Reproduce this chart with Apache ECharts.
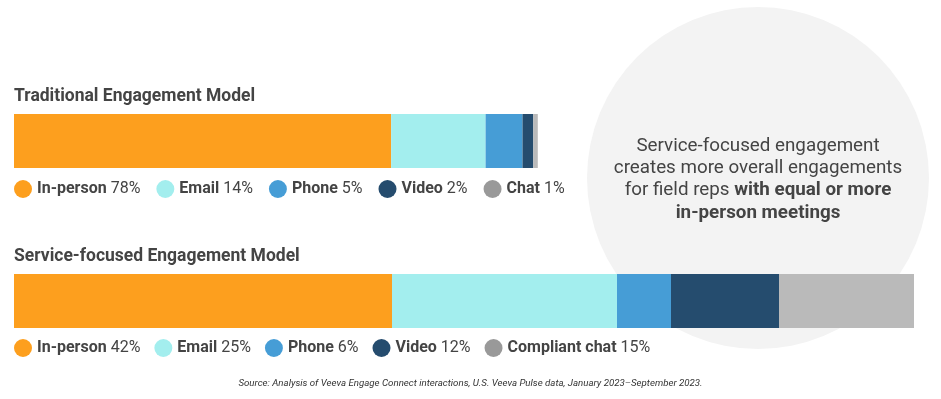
<!DOCTYPE html>
<html lang="en">
<head>
    <meta charset="UTF-8">
    <title>Engagement models</title>
    <script type="text/javascript" src="https://cdn.jsdelivr.net/npm/echarts@6/dist/echarts.min.js"></script>
    <style>
        html, body { margin: 0; padding: 0; background: #fff; }
        #main { width: 941px; height: 399px; }
    </style>
</head>
<body>
    <div id="main"></div>
</body>

<script type="text/javascript">
    // legend names
    var tradNames = ['In-person', 'Email', 'Phone', 'Video', 'Chat'];
    var servNames = ['In-person', 'Email', 'Phone', 'Video', 'Compliant chat'];
    // percentages printed in the legends
    var tradPct = [78, 14, 5, 2, 1];
    var servPct = [42, 25, 6, 12, 15];
    // segment lengths as drawn (service bar = 100 on the shared scale)
    var tradBar = [41.9, 10.5, 4.1, 1.2, 0.5];
    var servBar = [42, 25, 6, 12, 15];

    var barColors = ['#fd9f1e', '#a3eeee', '#469dd6', '#254c6e', '#bababa'];
    var dotColors = ['#fd9f1e', '#a3eeee', '#469dd6', '#254c6e', '#999999'];

    var textColor = '#444';

    function makeSeries(names, values, stack, idx) {
        var list = [];
        for (var i = 0; i < names.length; i++) {
            list.push({
                name: names[i],
                type: 'bar',
                stack: stack,
                xAxisIndex: idx,
                yAxisIndex: idx,
                barWidth: '100%',
                silent: true,
                itemStyle: { color: barColors[i] },
                data: [values[i]]
            });
        }
        return list;
    }

    function makeLegend(names, pct, top, gap) {
        var data = [];
        for (var i = 0; i < names.length; i++) {
            data.push({ name: names[i], itemStyle: { color: dotColors[i] } });
        }
        return {
            left: 14,
            top: top,
            padding: 0,
            icon: 'circle',
            itemWidth: 18,
            itemHeight: 18,
            itemGap: gap,
            selectedMode: false,
            data: data,
            formatter: function (name) {
                var k = names.indexOf(name);
                return '{b|' + name + '} {n|' + pct[k] + '%}';
            },
            textStyle: {
                fontFamily: 'Roboto',
                fontSize: 16,
                color: textColor,
                rich: {
                    b: { fontFamily: 'Roboto', fontSize: 16, fontWeight: 'bold', color: textColor },
                    n: { fontFamily: 'Roboto', fontSize: 16, color: textColor }
                }
            }
        };
    }

    var myChart = echarts.init(document.getElementById('main'));

    var option = {
        backgroundColor: '#fff',
        animation: false,
        title: [
            {
                text: 'Traditional Engagement Model',
                left: 14, top: 88, padding: 0,
                textStyle: { fontFamily: 'Roboto', fontSize: 17.5, fontWeight: 'bold', color: textColor }
            },
            {
                text: 'Service-focused Engagement Model',
                left: 14, top: 248, padding: 0,
                textStyle: { fontFamily: 'Roboto', fontSize: 17.5, fontWeight: 'bold', color: textColor }
            },
            {
                text: 'Source: Analysis of Veeva Engage Connect interactions, U.S. Veeva Pulse data, January 2023\u2013September 2023.',
                left: 'center', top: 379, padding: 0,
                textStyle: { fontFamily: 'Roboto', fontSize: 9.7, fontStyle: 'italic', fontWeight: 'normal', color: '#333' }
            }
        ],
        graphic: [
            {
                type: 'circle',
                z: -10,
                silent: true,
                shape: { cx: 758, cy: 178, r: 171 },
                style: { fill: '#f3f3f3' }
            },
            {
                type: 'text',
                z: 10,
                silent: true,
                x: 758,
                y: 135,
                style: {
                    text: 'Service-focused engagement\ncreates more overall engagements\nfor field reps {b|with equal or more}\n{b|in-person meetings}',
                    align: 'center',
                    fontFamily: 'Roboto',
                    fontSize: 18.8,
                    lineHeight: 22.3,
                    fill: textColor,
                    rich: {
                        b: { fontFamily: 'Roboto', fontSize: 18.8, fontWeight: 'bold', lineHeight: 22.3, fill: textColor }
                    }
                }
            }
        ],
        legend: [
            makeLegend(tradNames, tradPct, 180, 16),
            makeLegend(servNames, servPct, 339, 14)
        ],
        grid: [
            { left: 14, top: 114, width: 900, height: 54 },
            { left: 14, top: 274, width: 900, height: 54 }
        ],
        xAxis: [
            { type: 'value', gridIndex: 0, min: 0, max: 100, show: false },
            { type: 'value', gridIndex: 1, min: 0, max: 100, show: false }
        ],
        yAxis: [
            { type: 'category', gridIndex: 0, data: ['Traditional'], show: false },
            { type: 'category', gridIndex: 1, data: ['Service-focused'], show: false }
        ],
        series: makeSeries(tradNames, tradBar, 'trad', 0).concat(makeSeries(servNames, servBar, 'serv', 1))
    };

    myChart.setOption(option);
</script>
</html>
